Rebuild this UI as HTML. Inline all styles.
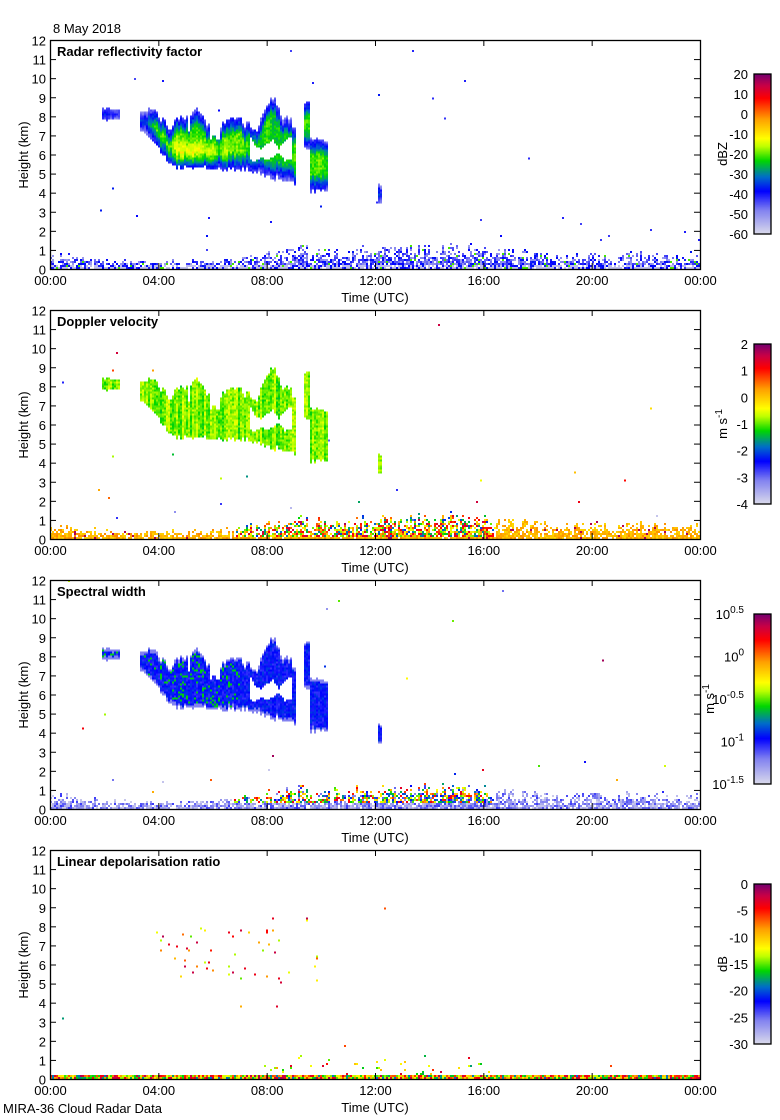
<!DOCTYPE html>
<html><head><meta charset="utf-8">
<style>
body{margin:0;background:#fff;}
#wrap{position:relative;width:780px;height:1120px;overflow:hidden;background:#fff;font-family:"Liberation Sans",sans-serif;}
canvas.plot{position:absolute;left:50px;width:650px;height:229px;image-rendering:pixelated;}
canvas.cbar{position:absolute;left:754px;width:17px;}
svg{position:absolute;left:0;top:0;}
</style></head>
<body>
<div id="wrap">
<svg id="ax" width="780" height="1120"></svg>
</div>
<script>
// ---- data ----
const panelTitles=["Radar reflectivity factor","Doppler velocity","Spectral width","Linear depolarisation ratio"];
const xTickLabels=["00:00","04:00","08:00","12:00","16:00","20:00","00:00"];
const yTickLabels=["0","1","2","3","4","5","6","7","8","9","10","11","12"];
const mainT=[3.35,3.6,3.9,4.2,4.5,4.8,5.1,5.5,5.9,6.3,6.7,7.0,7.3,7.6,8.0,8.4,8.8,9.1];
const mainTop=[8.7,9.1,9.1,8.2,7.9,8.3,8.6,8.8,8.2,8.0,8.1,8.6,8.0,7.7,9.4,9.3,8.6,7.8];
const mainBase=[7.2,6.9,6.4,5.8,5.3,5.2,5.2,5.2,5.2,5.1,5.1,5.1,5.1,5.0,4.7,4.6,4.4,4.3];
const colT0=[1.9,9.35,9.6,12.1];
const colT1=[2.6,9.6,10.3,12.25];
const colTop=[8.7,9.0,7.1,4.8];
const colBase=[7.7,6.2,4.0,3.3];
const blHours=[0,1,2,3,4,5,6,7,8,9,10,11,12,13,14,15,16,17,18,19,20,21,22,23,24];
const blTop=[0.8,0.7,0.55,0.5,0.45,0.45,0.55,0.7,0.9,1.2,1.2,1.2,1.2,1.3,1.3,1.3,1.2,1.0,0.9,0.85,0.85,0.85,0.85,0.85,0.85];
const cbLabels=[["20","10","0","-10","-20","-30","-40","-50","-60"],["2","1","0","-1","-2","-3","-4"],["0.5","0","-0.5","-1","-1.5"],["0","-5","-10","-15","-20","-25","-30"]];
const cbUnits=["dBZ","m s-1","m s-1","dB"];
const cbTop=[74,344,614,884];
const cbBot=[234,504,784,1044];
// ---- colormap ----
const stops=[[0,220,220,235],[0.15,130,130,240],[0.27,0,0,255],[0.36,0,110,200],[0.46,0,215,0],[0.55,190,255,0],[0.6,255,255,0],[0.72,255,160,0],[0.85,255,0,0],[0.93,200,0,70],[1,120,0,110]];
function cmap(f){f=Math.max(0,Math.min(1,f));for(let i=1;i<stops.length;i++){if(f<=stops[i][0]){const a=stops[i-1],b=stops[i],t=(f-a[0])/(b[0]-a[0]);return [a[1]+(b[1]-a[1])*t,a[2]+(b[2]-a[2])*t,a[3]+(b[3]-a[3])*t];}}return stops[stops.length-1].slice(1);}
function hash(a,b,c){let h=(a*374761393+b*668265263+c*2147483647)|0;h=(h^(h>>>13))*1274126177|0;h=h^(h>>>16);return ((h>>>0)%100000)/100000;}
function smooth(c,k){const a=Math.floor(c/3),t=(c%3)/3;return hash(a,k,5)*(1-t)+hash(a+1,k,5)*t;}
function interp(xs,ys,x){if(x<xs[0]||x>xs[xs.length-1])return null;for(let i=1;i<xs.length;i++){if(x<=xs[i]){const t=(x-xs[i-1])/(xs[i]-xs[i-1]);return ys[i-1]+(ys[i]-ys[i-1])*t;}}return null;}
const W=325,H=115;
function cloudDepth(c,h,z){
  const n1=smooth(c,1)*0.7+hash(c,1,7)*0.3,n2=hash(c,2,7);
  let tp=interp(mainT,mainTop,h),bs=interp(mainT,mainBase,h);
  if(tp!==null){tp-=n1*1.3;bs+=n2*0.25;
    const hl=5.6+smooth(c,3)*0.5,hu=6.0+smooth(c,4)*1.2;
    if(h>7.4&&h<8.9&&z>hl&&z<hu)return -1;
    if(h>4.6&&h<6.4&&z>tp-0.6&&smooth(c,6)<0.35)return -1;
    if(z>=bs&&z<=tp)return Math.min(z-bs,tp-z);}
  for(let i=0;i<colT0.length;i++){if(h>=colT0[i]&&h<=colT1[i]){const t=colTop[i]-n1*0.5,b=colBase[i]+n2*0.2;if(z>=b&&z<=t)return Math.min(z-b,t-z);}}
  return -1;
}
function pixel(p,c,r,h,z){
  const d=cloudDepth(c,h,z);const n=hash(c,r,p+11),m=hash(c,r,p+31);
  if(d>=0){
    if(p===0){let v=-46+24*Math.min(1,d/0.9)+12*Math.exp(-((h-5.3)**2)/1.2-((z-5.9)**2)/0.5)+(smooth(c,8)-0.5)*8+(n-0.5)*6;return cmap((v+60)/80);}
    if(p===1){let v=-0.9+(hash(c,3,3)-0.5)*0.5+(n-0.5)*0.5;return cmap((v+4)/6);}
    if(p===2){if(d<0.15)return cmap(0.15);if(n<0.12&&h<7)return cmap(0.45);return cmap(0.22+m*0.1);}
    if(p===3){if(h>3.8&&h<10&&n<0.025)return cmap(0.5+m*0.45);return null;}
  }
  const bt=interp(blHours,blTop,h)*(0.55+0.55*hash(c,4,9));
  const turb=h>6.8&&h<16.5;
  if(p===3){if(z<0.25)return cmap(0.35+n*0.6);if(turb&&z<bt&&n<0.03)return cmap(0.4+m*0.55);if(n<0.0004)return cmap(m);return null;}
  if(z<bt&&n<0.95-0.55*(z/bt)){
    if(p===0){if(z<0.2&&m<0.6)return cmap(0.05);return cmap(0.1+m*0.2+(m>0.95?0.2:0));}
    if(p===1){if(turb&&z>0.1)return cmap(0.3+m*0.65);return cmap(m<0.04?0.95:0.64+m*0.1);}
    if(p===2){if(z<0.3||!turb)return cmap(0.02+m*0.2);return cmap(0.1+m*0.8);}
  }
  const dens=z<3?0.002:0.0006;
  if(n<dens){if(p===0)return cmap(0.2+m*0.1);return cmap(m);}
  return null;
}
const wrap=document.getElementById('wrap');
for(let p=0;p<4;p++){
  const T=40+270*p;
  const cv=document.createElement('canvas');
  cv.width=W;cv.height=H;cv.className='plot';cv.style.top=T+'px';
  
  
  const ctx=cv.getContext('2d');const img=ctx.createImageData(W,H);
  for(let c=0;c<W;c++)for(let r=0;r<H;r++){
    const h=(c+0.5)/W*24,z=(H-r-0.5)/H*12;
    const col=pixel(p,c,r,h,z);const i=(r*W+c)*4;
    if(col){img.data[i]=col[0];img.data[i+1]=col[1];img.data[i+2]=col[2];}else{img.data[i]=255;img.data[i+1]=255;img.data[i+2]=255;}
    img.data[i+3]=255;
  }
  ctx.putImageData(img,0,0);
  wrap.insertBefore(cv,wrap.firstChild);
  const cb=document.createElement('canvas');
  const ch=cbBot[p]-cbTop[p];
  cb.width=1;cb.height=ch;cb.className='cbar';cb.style.top=cbTop[p]+'px';cb.style.height=ch+'px';
  
  
  const cc=cb.getContext('2d');
  for(let y=0;y<ch;y++){const col=cmap(1-y/ch);cc.fillStyle='rgb('+col.map(Math.round).join(',')+')';cc.fillRect(0,y,1,1);}
  wrap.insertBefore(cb,wrap.firstChild);
}
// ---- axes ----
const svg=document.getElementById('ax');const NS='http://www.w3.org/2000/svg';
function mk(tag,attrs,txt){const e=document.createElementNS(NS,tag);for(const k in attrs)e.setAttribute(k,attrs[k]);if(txt!==undefined)e.textContent=txt;svg.appendChild(e);return e;}
const X0=50,PW=650,PH=229;
for(let p=0;p<4;p++){
  const T=40+270*p,B=T+PH;
  let e=mk('rect',{x:X0+0.5,y:T+0.5,width:PW,height:PH,fill:'none',stroke:'#000','stroke-width':1.3});
  
  
  yTickLabels.forEach((lab,k)=>{const y=B-k*PH/12+0.5;
    mk('line',{x1:X0,x2:X0+6,y1:y,y2:y,stroke:'#000'});mk('line',{x1:X0+PW-6,x2:X0+PW,y1:y,y2:y,stroke:'#000'});
    const t=mk('text',{x:46,y:y+5,'text-anchor':'end','font-size':13},lab);
    
    });
  xTickLabels.forEach((lab,i)=>{const x=X0+i*PW/6+0.5;
    mk('line',{x1:x,x2:x,y1:B-6,y2:B,stroke:'#000'});mk('line',{x1:x,x2:x,y1:T,y2:T+6,stroke:'#000'});
    const t=mk('text',{x:x,y:B+16,'text-anchor':'middle','font-size':13},lab);
    
    });
  e=mk('text',{x:375,y:B+33,'text-anchor':'middle','font-size':13},'Time (UTC)');
  
  
  e=mk('text',{x:0,y:0,'text-anchor':'middle','font-size':13,transform:'translate(28,'+(T+115)+') rotate(-90)'},'Height (km)');
  
  
  e=mk('text',{x:57,y:T+16,'font-size':13,'font-weight':'bold'},panelTitles[p]);
  
  
  e=mk('rect',{x:754,y:cbTop[p],width:17,height:cbBot[p]-cbTop[p],fill:'none',stroke:'#000','stroke-width':1.3});
  
  
  const labs=cbLabels[p],n=labs.length;
  labs.forEach((lab,i)=>{const y=cbTop[p]+i*(cbBot[p]-cbTop[p])/(n-1);
    let t;
    if(p===2){t=mk('text',{x:744,y:y+5,'text-anchor':'end','font-size':13},'10');const s=document.createElementNS(NS,'tspan');s.setAttribute('dy','-6');s.setAttribute('font-size','10');s.textContent=lab;t.appendChild(s);}
    else t=mk('text',{x:748,y:y+5,'text-anchor':'end','font-size':13},lab);
    
    });
  const cy=(cbTop[p]+cbBot[p])/2;
  let u;
  if(p===1||p===2){u=mk('text',{x:0,y:0,'text-anchor':'middle','font-size':13,transform:'translate('+(p===2?714:727)+','+cy+') rotate(-90)'},'m s');const s=document.createElementNS(NS,'tspan');s.setAttribute('dy','-5');s.setAttribute('font-size','10');s.textContent='-1';u.appendChild(s);}
  else u=mk('text',{x:0,y:0,'text-anchor':'middle','font-size':13,transform:'translate(727,'+cy+') rotate(-90)'},cbUnits[p]);
  
  
}
let e2=mk('text',{x:53,y:33,'font-size':13},'8 May 2018');


e2=mk('text',{x:3,y:1113,'font-size':13},'MIRA-36 Cloud Radar Data');


</script>
</body></html>
